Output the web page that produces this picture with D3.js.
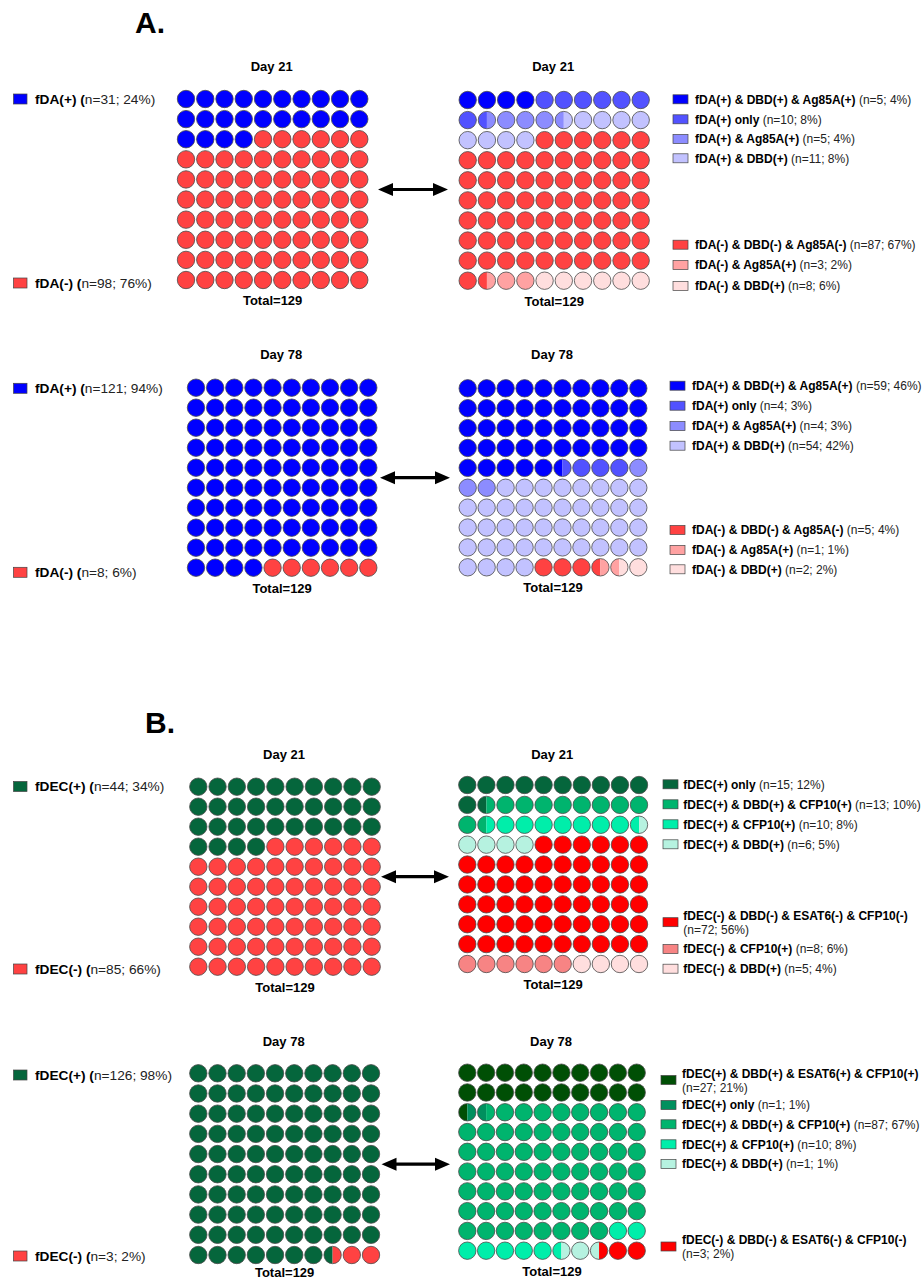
<!DOCTYPE html>
<html>
<head>
<meta charset="utf-8">
<script src="https://cdn.jsdelivr.net/npm/d3@7"></script>
<style>
  body { margin: 0; background: #fff; }
  text { font-family: "Liberation Sans", Arial, sans-serif; }
</style>
</head>
<body>
<svg id="chart" width="922" height="1279"></svg>
<script>
// ---------- Data: each waffle is 100 circles; cells are circles filled per group ----------
const TOTAL = 129;

// Panel A, Day 21
const a21LeftLabels = ["fDA(+)", "fDA(-)"];
const a21LeftN      = [31, 98];
const a21LeftPct    = [24, 76];
const a21LeftCells  = [24, 76];
const a21RightLabels = ["fDA(+) & DBD(+) & Ag85A(+)", "fDA(+) only", "fDA(+) & Ag85A(+)", "fDA(+) & DBD(+)",
                        "fDA(-) & DBD(-) & Ag85A(-)", "fDA(-) & Ag85A(+)", "fDA(-) & DBD(+)"];
const a21RightN      = [5, 10, 5, 11, 87, 3, 8];
const a21RightPct    = [4, 8, 4, 8, 67, 2, 6];
const a21RightCells  = [4, 7.5, 4, 8.5, 67.5, 2.5, 6];

// Panel A, Day 78
const a78LeftLabels = ["fDA(+)", "fDA(-)"];
const a78LeftN      = [121, 8];
const a78LeftPct    = [94, 6];
const a78LeftCells  = [94, 6];
const a78RightLabels = a21RightLabels;
const a78RightN      = [59, 4, 4, 54, 5, 1, 2];
const a78RightPct    = [46, 3, 3, 42, 4, 1, 2];
const a78RightCells  = [45.5, 3.5, 3, 42, 3.5, 1, 1.5];

// Panel B, Day 21
const b21LeftLabels = ["fDEC(+)", "fDEC(-)"];
const b21LeftN      = [44, 85];
const b21LeftPct    = [34, 66];
const b21LeftCells  = [34, 66];
const b21RightLabels = ["fDEC(+) only", "fDEC(+) & DBD(+) & CFP10(+)", "fDEC(+) & CFP10(+)", "fDEC(+) & DBD(+)",
                        "fDEC(-) & DBD(-) & ESAT6(-) & CFP10(-)", "fDEC(-) & CFP10(+)", "fDEC(-) & DBD(+)"];
const b21RightN      = [15, 13, 10, 6, 72, 8, 5];
const b21RightPct    = [12, 10, 8, 5, 56, 6, 4];
const b21RightCells  = [11.5, 10, 8, 4.5, 56, 6, 4];

// Panel B, Day 78
const b78LeftLabels = ["fDEC(+)", "fDEC(-)"];
const b78LeftN      = [126, 3];
const b78LeftPct    = [98, 2];
const b78LeftCells  = [97.5, 2.5];
const b78RightLabels = ["fDEC(+) & DBD(+) & ESAT6(+) & CFP10(+)", "fDEC(+) only", "fDEC(+) & DBD(+) & CFP10(+)",
                        "fDEC(+) & CFP10(+)", "fDEC(+) & DBD(+)", "fDEC(-) & DBD(-) & ESAT6(-) & CFP10(-)"];
const b78RightN      = [27, 1, 87, 10, 1, 3];
const b78RightPct    = [21, 1, 67, 8, 1, 2];
const b78RightCells  = [20.5, 1, 66.5, 7.5, 2, 2.5];

// ---------- Colours ----------
const colorsALeft  = ["#0000ff", "#ff4242"];
const colorsARight = ["#0000ff", "#5252ff", "#8c8cff", "#c2c2ff", "#ff4242", "#ffa2a2", "#ffdede"];
const colorsBLeft  = ["#05663c", "#ff4242"];
const colorsB21Right = ["#05663c", "#00b46e", "#00eeaa", "#b6f2e0", "#ff0000", "#f78484", "#ffdede"];
const colorsB78Right = ["#004f05", "#00905e", "#00b46e", "#00eeaa", "#b6f2e0", "#ff0000"];

// ---------- Layout ----------
const R = 8.7;
const panels = [
  {
    title: "Day 21", titleY: 70.5,
    left:  { labels: a21LeftLabels, n: a21LeftN, pct: a21LeftPct, cells: a21LeftCells, colors: colorsALeft,
             x0: 186, x1: 359.3, y0: 99, y1: 280, legendY: [99, 283] },
    right: { labels: a21RightLabels, n: a21RightN, pct: a21RightPct, cells: a21RightCells, colors: colorsARight,
             x0: 467.7, x1: 640.7, y0: 100, y1: 280.7,
             sqX: 673, textX: 695, legendY: [99.3, 119.3, 139, 158.3, 244.7, 265, 286], wrap: [] },
    arrow: [378, 448]
  },
  {
    title: "Day 78", titleY: 359,
    left:  { labels: a78LeftLabels, n: a78LeftN, pct: a78LeftPct, cells: a78LeftCells, colors: colorsALeft,
             x0: 196, x1: 368.3, y0: 387.7, y1: 567.7, legendY: [388.3, 572.3] },
    right: { labels: a78RightLabels, n: a78RightN, pct: a78RightPct, cells: a78RightCells, colors: colorsARight,
             x0: 467.7, x1: 638.3, y0: 388.3, y1: 567.3,
             sqX: 670, textX: 692, legendY: [385.7, 405.7, 426, 445.7, 530, 550, 569.3], wrap: [] },
    arrow: [380, 450]
  },
  {
    title: "Day 21", titleY: 758.5,
    left:  { labels: b21LeftLabels, n: b21LeftN, pct: b21LeftPct, cells: b21LeftCells, colors: colorsBLeft,
             x0: 198.3, x1: 371.7, y0: 786.7, y1: 966.7, legendY: [786.5, 969] },
    right: { labels: b21RightLabels, n: b21RightN, pct: b21RightPct, cells: b21RightCells, colors: colorsB21Right,
             x0: 467.3, x1: 639, y0: 785, y1: 964,
             sqX: 663, textX: 683.3, legendY: [784.3, 804.3, 824.3, 844.3, 915.7, 949, 968.7], wrap: [4] },
    arrow: [381, 449]
  },
  {
    title: "Day 78", titleY: 1045.5,
    left:  { labels: b78LeftLabels, n: b78LeftN, pct: b78LeftPct, cells: b78LeftCells, colors: colorsBLeft,
             x0: 198.3, x1: 371, y0: 1073.3, y1: 1255, legendY: [1075, 1256] },
    right: { labels: b78RightLabels, n: b78RightN, pct: b78RightPct, cells: b78RightCells, colors: colorsB78Right,
             x0: 467.3, x1: 636.7, y0: 1072.7, y1: 1250.7,
             sqX: 661, textX: 682, legendY: [1073.5, 1105, 1124.3, 1144.3, 1164, 1240], wrap: [0, 5] },
    arrow: [381.5, 450]
  }
];

const svg = d3.select("#chart");
const defs = svg.append("defs");
let clipCount = 0;

function drawWaffle(g, w) {
  const xs = d3.scalePoint().domain(d3.range(10)).range([w.x0, w.x1]);
  const ys = d3.scalePoint().domain(d3.range(10)).range([w.y0, w.y1]);
  const ends = Array.from(d3.cumsum(w.cells));
  const starts = [0].concat(ends.slice(0, -1));

  d3.range(100).forEach(i => {
    const cx = xs(i % 10), cy = ys(Math.floor(i / 10));
    const parts = w.cells.map((c, k) => ({ k, a: Math.max(starts[k], i), b: Math.min(ends[k], i + 1) }))
                         .filter(p => p.b - p.a > 1e-9);
    if (parts.length === 1) {
      g.append("circle").attr("cx", cx).attr("cy", cy).attr("r", R)
        .attr("fill", w.colors[parts[0].k]).attr("stroke", "#4a4a4a").attr("stroke-width", 0.8);
    } else {
      const id = "cell-clip-" + (clipCount++);
      defs.append("clipPath").attr("id", id)
        .append("circle").attr("cx", cx).attr("cy", cy).attr("r", R);
      const cg = g.append("g").attr("clip-path", `url(#${id})`);
      parts.forEach(p => {
        cg.append("rect")
          .attr("x", cx - R + (p.a - i) * 2 * R)
          .attr("y", cy - R)
          .attr("width", (p.b - p.a) * 2 * R)
          .attr("height", 2 * R)
          .attr("fill", w.colors[p.k]);
      });
      g.append("circle").attr("cx", cx).attr("cy", cy).attr("r", R)
        .attr("fill", "none").attr("stroke", "#4a4a4a").attr("stroke-width", 0.8);
    }
  });

  const midX = (w.x0 + w.x1) / 2;
  g.append("text").attr("x", midX).attr("y", Math.min(w.y1 + 25, 1277))
    .attr("text-anchor", "middle").attr("font-size", 13).attr("font-weight", "bold")
    .text("Total=" + TOTAL);
  return midX;
}

function drawLeftLegend(g, w) {
  w.labels.forEach((lab, k) => {
    const y = w.legendY[k];
    g.append("rect").attr("x", 13.5).attr("y", y - 5).attr("width", 13.5).attr("height", 10)
      .attr("fill", w.colors[k]).attr("stroke", "#444").attr("stroke-width", 0.7);
    const t = g.append("text").attr("x", 35).attr("y", y + 4.8).attr("font-size", 13.7);
    t.append("tspan").attr("font-weight", "bold").attr("fill", "#000").text(lab + " (");
    t.append("tspan").attr("fill", "#222").text(`n=${w.n[k]}; ${w.pct[k]}%)`);
  });
}

function drawRightLegend(g, w) {
  w.labels.forEach((lab, k) => {
    const y = w.legendY[k];
    const wrapped = w.wrap.includes(k);
    const sqY = wrapped ? y + 6.5 : y;
    g.append("rect").attr("x", w.sqX).attr("y", sqY - 4.5).attr("width", 15).attr("height", 9)
      .attr("fill", w.colors[k]).attr("stroke", "#444").attr("stroke-width", 0.7);
    const stats = `(n=${w.n[k]}; ${w.pct[k]}%)`;
    const t = g.append("text").attr("x", w.textX).attr("y", y + 4.3).attr("font-size", 12);
    t.append("tspan").attr("font-weight", "bold").attr("fill", "#000").text(lab);
    if (wrapped) {
      g.append("text").attr("x", w.textX).attr("y", y + 4.3 + 14).attr("font-size", 12)
        .attr("fill", "#222").text(stats);
    } else {
      t.append("tspan").attr("fill", "#222").text(" " + stats);
    }
  });
}

function drawArrow(g, x0, x1, y) {
  const hl = 15, hh = 6.5, st = 1.6;
  const pts = [
    [x0, y], [x0 + hl, y - hh], [x0 + hl, y - st], [x1 - hl, y - st], [x1 - hl, y - hh],
    [x1, y], [x1 - hl, y + hh], [x1 - hl, y + st], [x0 + hl, y + st], [x0 + hl, y + hh]
  ];
  g.append("path").attr("d", d3.line()(pts) + "Z").attr("fill", "#000");
}

panels.forEach(p => {
  const g = svg.append("g");
  const lmid = drawWaffle(g, p.left);
  const rmid = drawWaffle(g, p.right);
  [lmid, rmid].forEach(mx => {
    g.append("text").attr("x", mx - 1).attr("y", p.titleY)
      .attr("text-anchor", "middle").attr("font-size", 13).attr("font-weight", "bold").text(p.title);
  });
  drawLeftLegend(g, p.left);
  drawRightLegend(g, p.right);
  const ym = (p.left.y0 + p.left.y1) / 2;
  drawArrow(g, p.arrow[0], p.arrow[1], ym);
});

// Section letters
svg.append("text").attr("x", 135).attr("y", 33.3).attr("font-size", 30).attr("font-weight", "bold").text("A.");
svg.append("text").attr("x", 145).attr("y", 733.3).attr("font-size", 30).attr("font-weight", "bold").text("B.");
</script>
</body>
</html>
